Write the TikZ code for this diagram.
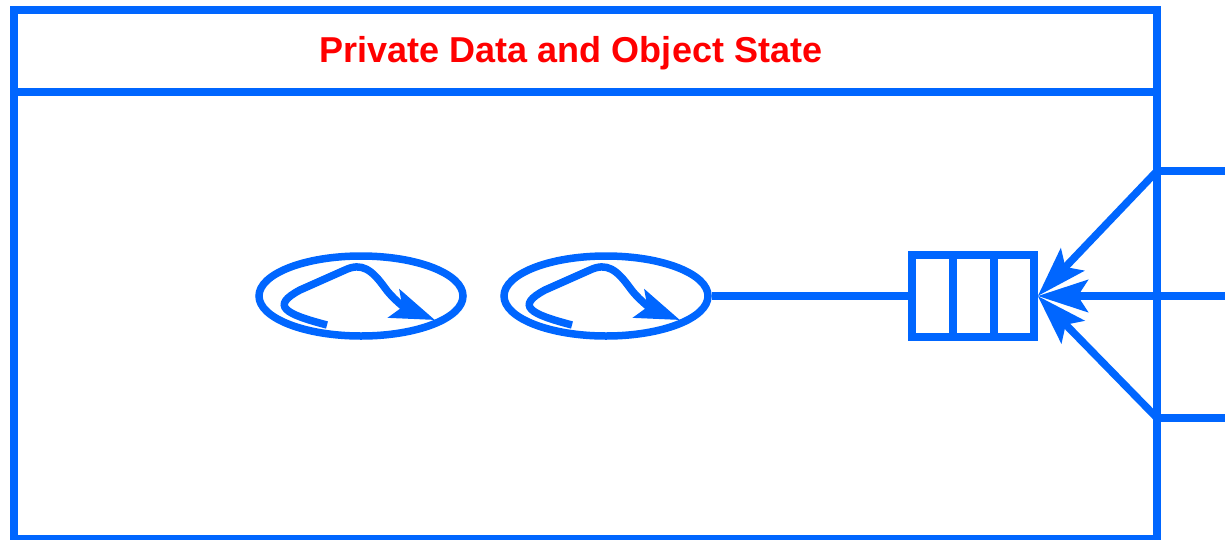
\documentclass[tikz,border=0pt]{standalone}
\usepackage{fontspec}
\setmainfont{Liberation Sans}
\usetikzlibrary{arrows.meta,shapes.geometric}
\definecolor{lineblue}{HTML}{0066FF}
\definecolor{titlered}{HTML}{FF0000}
\tikzset{
  blueline/.style={draw=lineblue, line width=7.5pt},
  bigarrow/.style={blueline, -{Stealth[length=50pt,width=32pt,inset=10pt]}},
  smallarrow/.style={blueline, line cap=butt, -{Stealth[length=44pt,width=30pt,inset=9pt]}},
  thread/.style={blueline, ellipse, minimum width=204pt, minimum height=80pt, inner sep=0pt},
}
\begin{document}
\begin{tikzpicture}[x=1pt,y=-1pt]
\useasboundingbox (0,0) rectangle (1225,539);
% outer box
\coordinate (tl) at (14,10);
\coordinate (br) at (1157,539);
\draw[blueline] (tl) rectangle (br);
\coordinate (sepL) at (14,92);
\coordinate (sepR) at (1157,92);
\draw[blueline] (sepL) -- (sepR);
\node[text=titlered, font=\fontsize{36}{40}\selectfont\bfseries, anchor=base] (title) at (571,62) {Private Data and Object State};
% threads
\node[thread] (e1) at (361,296) {};
\node[thread] (e2) at (606,296) {};
\coordinate (a1s) at (327,325);
\coordinate (a1e) at (435,320);
\draw[smallarrow] (a1s) .. controls (285,314) and (270,306) .. (300,290) -- (345,270) .. controls (362,262) and (372,270) .. (385,288) .. controls (392,298) and (405,308) .. (a1e);
\coordinate (a2s) at (572,325);
\coordinate (a2e) at (680,320);
\draw[smallarrow] (a2s) .. controls (530,314) and (515,306) .. (545,290) -- (590,270) .. controls (607,262) and (617,270) .. (630,288) .. controls (637,298) and (650,308) .. (a2e);
% queue
\node[blueline, minimum width=122pt, minimum height=82pt, inner sep=0pt] (q) at (973,296) {};
\coordinate (d1t) at (953,255);
\coordinate (d1b) at (953,337);
\coordinate (d2t) at (994,255);
\coordinate (d2b) at (994,337);
\draw[blueline] (d1t) -- (d1b);
\draw[blueline] (d2t) -- (d2b);
\draw[blueline] (e2.east) -- (q.west);
% incoming
\coordinate (in1) at (1157,171);
\coordinate (in2) at (1225,296);
\coordinate (in3) at (1157,418);
\coordinate (o1) at (1225,171);
\coordinate (o3) at (1225,418);
\draw[blueline] (in1) -- (o1);
\draw[blueline] (in3) -- (o3);
\draw[bigarrow] (in1) -- (q.east);
\draw[bigarrow] (in2) -- (q.east);
\draw[bigarrow] (in3) -- (q.east);
\end{tikzpicture}
\end{document}
